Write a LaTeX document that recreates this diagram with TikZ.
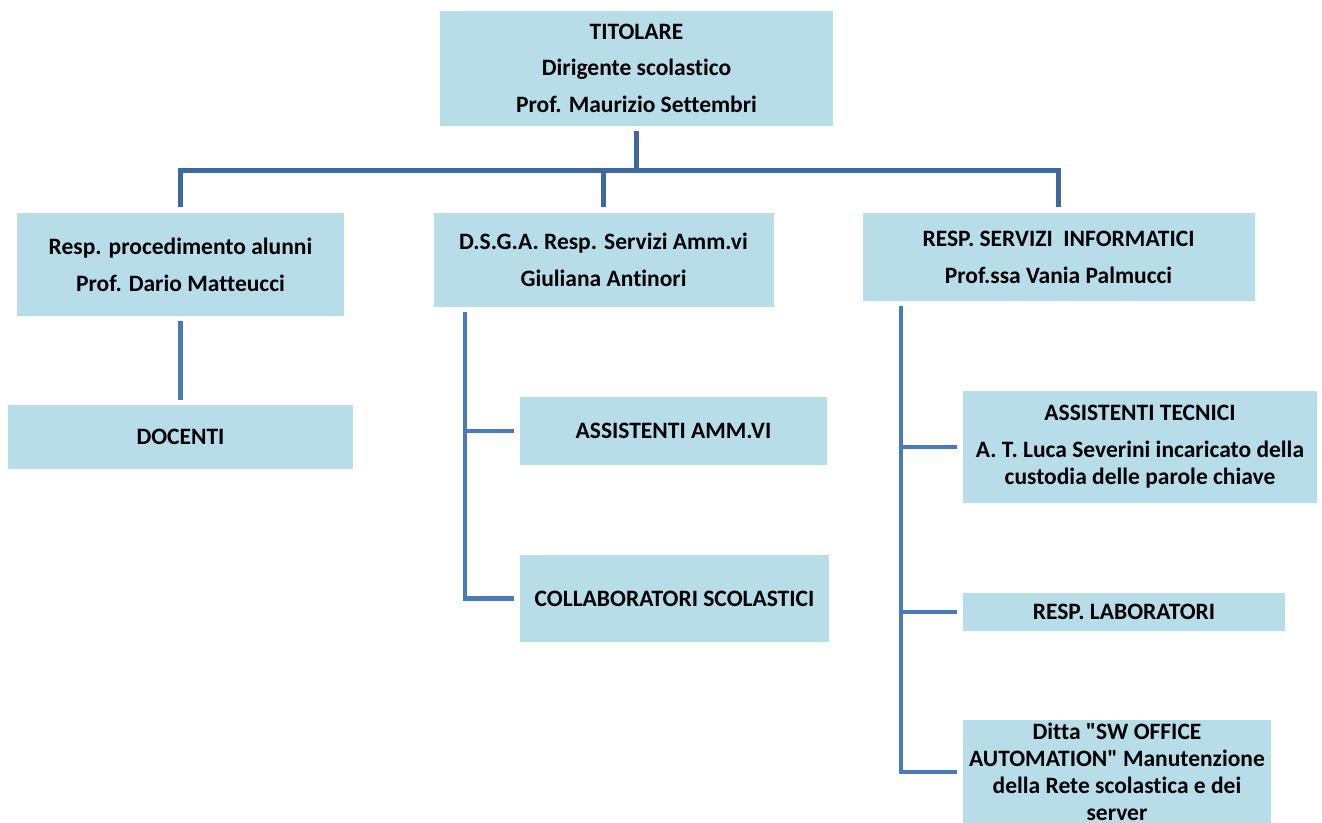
\documentclass[tikz,border=0pt]{standalone}
\usepackage{fontspec}
\newfontfamily\orgfont{Carlito}[Ligatures=CommonOff]
\usepackage{tikz}
\usetikzlibrary{calc,positioning}
\definecolor{boxblue}{HTML}{B7DDE8}
\definecolor{toplink}{HTML}{3F68A0}
\definecolor{sublink}{HTML}{4A7AB7}
\tikzset{
	unit/.style={fill=boxblue, inner sep=0pt, align=center, font=\orgfont\bfseries\fontsize{23.5}{27}\selectfont},
	link/.style={line width=4.6pt, color=sublink, line join=miter, shorten <=5pt, shorten >=6pt},
	toplinkstyle/.style={link, color=toplink}
}

\begin{document}
\begin{tikzpicture}[x=1pt, y=-1pt]
		%%%%% START %%%%%
		\useasboundingbox (0, 0) rectangle (1322, 822);
		\clip (0, 0) rectangle (1322, 822);
		
		% top level
		\node[unit, minimum width=393, minimum height=115] (titolare) at (636.5, 68) {TITOLARE\\[9.5pt]Dirigente scolastico\\[9.5pt]Prof. Maurizio Settembri};
		
		% second level
		\node[unit, minimum width=327, minimum height=103] (alunni) at (180.5, 264.5) {Resp. procedimento alunni\\[10pt]Prof. Dario Matteucci};
		\node[unit, minimum width=340, minimum height=94] (dsga) at (603.5, 260) {D.S.G.A. Resp. Servizi Amm.vi\\[10pt]Giuliana Antinori};
		\node[unit, minimum width=392, minimum height=88] (informatici) at (1058.5, 257) {RESP. SERVIZI~ INFORMATICI\\[10pt]Prof.ssa Vania Palmucci};
		
		% third level
		\node[unit, minimum width=345, minimum height=64] (docenti) at (180.5, 437) {DOCENTI};
		\node[unit, minimum width=307, minimum height=68] (assamm) at (673.5, 431) {ASSISTENTI AMM.VI};
		\node[unit, minimum width=309, minimum height=87] (collab) at (674.5, 598.5) {COLLABORATORI SCOLASTICI};
		\node[unit, minimum width=354, minimum height=112] (asstec) at (1140, 447) {ASSISTENTI TECNICI\\[10pt]A. T. Luca Severini incaricato della\\custodia delle parole chiave};
		\node[unit, minimum width=322, minimum height=38] (lab) at (1124, 612) {RESP. LABORATORI};
		\node[unit, minimum width=308, minimum height=104] (ditta) at (1117, 772) {Ditta "SW OFFICE\\AUTOMATION" Manutenzione\\della Rete scolastica e dei\\server};
		
		% spines
		\coordinate (dsgaspine) at ($(dsga.south west)+(31.5, 0)$);
		\coordinate (infospine) at ($(informatici.south west)+(38.5, 0)$);
		
		% connectors from the top
		\draw[toplinkstyle] (titolare.south) -- ++(0, 45) -| (alunni.north);
		\draw[toplinkstyle] (titolare.south) -- ++(0, 45) -| (dsga.north);
		\draw[toplinkstyle] (titolare.south) -- ++(0, 45) -| (informatici.north);
		
		\draw[link, shorten <=5pt, shorten >=5pt] (alunni.south) -- (docenti.north);
		
		\draw[link] (dsgaspine) |- (collab.west);
		\draw[link, shorten <=0pt] (dsgaspine |- assamm.west) -- (assamm.west);
		
		\draw[link] (infospine) |- (ditta.west);
		\draw[link, shorten <=0pt] (infospine |- asstec.west) -- (asstec.west);
		\draw[link, shorten <=0pt] (infospine |- lab.west) -- (lab.west);
		
		%%%%% END %%%%%
	\end{tikzpicture}
\end{document}
